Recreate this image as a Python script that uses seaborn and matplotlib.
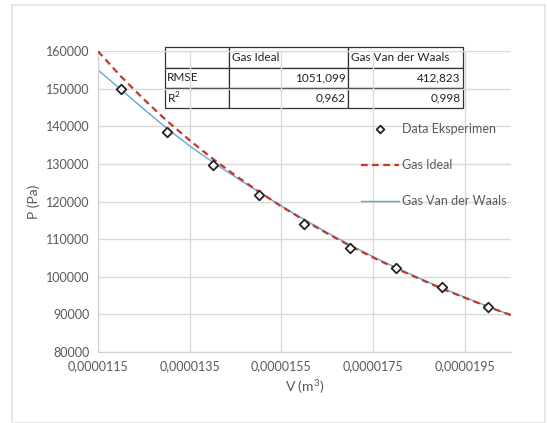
import numpy as np
import pandas as pd
import seaborn as sns
import matplotlib.pyplot as plt
import matplotlib.ticker as mticker
from matplotlib.patches import Rectangle

# experimental points
v_data = [0.000012, 0.000013, 0.000014, 0.000015, 0.000016,
          0.000017, 0.000018, 0.000019, 0.000020]
p_data = [150000, 138600, 129800, 121700, 114100,
          107700, 102400, 97200, 92000]

# model curves
v_curve = [0.0000115, 0.0000120, 0.0000125, 0.0000130, 0.0000135, 0.0000140,
           0.0000145, 0.0000150, 0.0000155, 0.0000160, 0.0000165, 0.0000170,
           0.0000175, 0.0000180, 0.0000185, 0.0000190, 0.0000195, 0.0000200,
           0.0000205]
p_ideal = [160000, 153300, 147200, 141500, 136300, 131400, 126900, 122700,
           118700, 115000, 111500, 108200, 105100, 102200, 99500, 96800,
           94400, 92000, 89800]
p_vdw = [155000, 149800, 144600, 139500, 134800, 130500, 126500, 122600,
         118800, 115200, 111700, 108400, 105300, 102400, 99600, 97000,
         94500, 92100, 89800]

table_cols = ['', 'Gas Ideal', 'Gas Van der Waals']
table_rows = [['RMSE', '1051,099', '412,823'],
              ['R$^2$', '0,962', '0,998']]

xticks = [0.0000115, 0.0000135, 0.0000155, 0.0000175, 0.0000195]

sns.set_style('white')
plt.rcParams['font.family'] = ['Lato', 'DejaVu Sans']
plt.rcParams['mathtext.fontset'] = 'custom'
plt.rcParams['mathtext.rm'] = 'Lato'

fig = plt.figure(figsize=(5.47, 4.23), dpi=100)
ax = fig.add_axes([0.179, 0.168, 0.755, 0.711])

fig.patches.append(Rectangle((0.022, 0.0), 0.975, 0.988, transform=fig.transFigure,
                             fill=False, edgecolor='#e2e2e2', lw=1.2))

grey = '#595959'
sns.lineplot(x=v_curve, y=p_ideal, ax=ax, color='#c0392b', lw=1.6,
             linestyle=(0, (3, 2)), label='Gas Ideal', zorder=3)
sns.lineplot(x=v_curve, y=p_vdw, ax=ax, color='#5fa8d8', lw=1.0,
             label='Gas Van der Waals', zorder=2)
sns.scatterplot(x=v_data, y=p_data, ax=ax, marker='D', s=24,
                facecolor='white', edgecolor='#222222', linewidth=1.3,
                label='Data Eksperimen', zorder=4)

ax.set_xlim(0.0000115, 0.0000205)
ax.set_ylim(80000, 160000)
ax.set_xticks(xticks)
ax.set_yticks(range(80000, 160001, 10000))
ax.xaxis.set_major_formatter(mticker.FuncFormatter(lambda v, p: f'{v:.7f}'.replace('.', ',')))
ax.grid(True, color='#d9d9d9', lw=1)
for s in ['top', 'right']:
    ax.spines[s].set_visible(False)
for s in ['left', 'bottom']:
    ax.spines[s].set_color('#d0d0d0')
ax.tick_params(labelsize=9, colors=grey, length=0, pad=6)
ax.set_xlabel('V (m$^3$)', color=grey, fontsize=10)
ax.set_ylabel('P (Pa)', color=grey, fontsize=10)

handles, labels = ax.get_legend_handles_labels()
order = [2, 0, 1]
leg = ax.legend([handles[i] for i in order], [labels[i] for i in order],
                loc='upper left', bbox_to_anchor=(0.61, 0.80), frameon=False,
                labelspacing=1.95, fontsize=9, handlelength=3.0, handletextpad=0.3,
                markerscale=0.8)
for t in leg.get_texts():
    t.set_color(grey)

tbl = ax.table(cellText=table_rows, colLabels=table_cols,
               bbox=[0.162, 0.81, 0.722, 0.203], colWidths=[64, 119, 115])
tbl.auto_set_font_size(False)
tbl.set_fontsize(8.5)
for (r, c), cell in tbl.get_celld().items():
    cell.set_edgecolor('#333333')
    cell.set_linewidth(0.9)
    cell.set_facecolor('white')
    cell.set_zorder(5)
    if r == 0 or c == 0:
        cell.get_text().set_ha('left')
        cell.PAD = 0.03
    else:
        cell.get_text().set_ha('right')
        cell.PAD = 0.02
    cell.get_text().set_color('#222222')

fig.savefig('out.png', dpi=100)
